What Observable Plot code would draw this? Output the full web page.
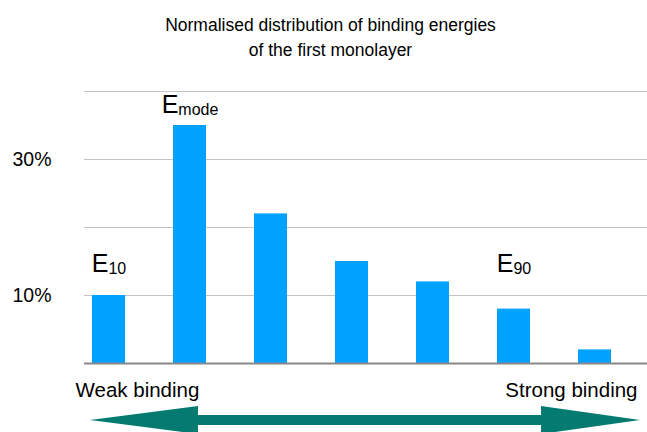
<!DOCTYPE html>
<html>
<head>
<meta charset="utf-8">
<script src="https://cdn.jsdelivr.net/npm/d3@7"></script>
<script src="https://cdn.jsdelivr.net/npm/@observablehq/plot@0.6"></script>
<style>
  body { margin: 0; background: #fff; font-family: "Liberation Sans", Arial, sans-serif; }
  #title { width: 647px; height: 70px; box-sizing: border-box; padding-top: 13px; font-size: 17.5px; line-height: 25px; text-align: center; position: relative; left: 7px; color: #000; }
</style>
</head>
<body>
<div id="title">Normalised distribution of binding energies<br>of the first monolayer</div>
<div id="chart"></div>
<script>
const bins = [0, 1, 2, 3, 4, 5, 6];
const shares = [0.10, 0.35, 0.22, 0.15, 0.12, 0.08, 0.02];
const yTicks = [0.1, 0.3];
const gridValues = [0.1, 0.2, 0.3, 0.4];
const labelBins = [0, 1, 5];
const labelSubs = ["10", "mode", "90"];
const labelLevels = [0.135, 0.368, 0.135];
const endLabels = ["Weak binding", "Strong binding"];

const bars = bins.map((b, i) => ({bin: b, share: shares[i]}));
const labels = labelBins.map((b, i) => ({bin: b, level: labelLevels[i], sub: labelSubs[i]}));

function arrowMark(index, scales, values, dims) {
  const {width, height} = dims;
  const cy = height - 12;
  const x0 = 90, x1 = width - 7;
  const hb0 = 198, hb1 = 541;
  const hh = 14, sh = 5;
  const pts = [
    [x0, cy], [hb0, cy - hh], [hb0, cy - sh], [hb1, cy - sh], [hb1, cy - hh],
    [x1, cy], [hb1, cy + hh], [hb1, cy + sh], [hb0, cy + sh], [hb0, cy + hh]
  ];
  const g = d3.create("svg:g");
  g.append("polygon").attr("points", pts.map(p => p.join(",")).join(" ")).attr("fill", "#047A70");
  return g.node();
}

const svg = Plot.plot({
  width: 647,
  height: 362,
  marginTop: 21,
  marginBottom: 69,
  marginLeft: 84,
  marginRight: 0,
  style: {fontFamily: "'Liberation Sans', Arial, sans-serif", color: "#000", background: "#fff"},
  x: {type: "band", domain: bins, range: [67, 636], paddingInner: 0.59, paddingOuter: 0.295, axis: null},
  y: {domain: [0, 0.4], axis: null},
  marks: [
    Plot.ruleY(gridValues, {stroke: "#c4c4c4", strokeWidth: 1}),
    Plot.barY(bars, {x: "bin", y: "share", fill: "#00A2FF"}),
    Plot.ruleY([0], {stroke: "#888", strokeWidth: 2}),
    Plot.axisY(yTicks, {tickFormat: d3.format(".0%"), tickSize: 0, tickPadding: 33, fontSize: 19.5, label: null}),
    Plot.text(labels, {x: "bin", y: "level", text: () => "E", fontSize: 25, lineAnchor: "bottom", textAnchor: "middle", fill: "#000"}),
    Plot.text([endLabels[0]], {frameAnchor: "bottom-left", dx: -9, dy: 33, lineAnchor: "bottom", textAnchor: "start", fontSize: 20.5, fill: "#000"}),
    Plot.text([endLabels[1]], {frameAnchor: "bottom-right", dx: -10, dy: 33, lineAnchor: "bottom", textAnchor: "end", fontSize: 20.5, fill: "#000"}),
    arrowMark
  ]
});

d3.select(svg).selectAll("text").filter(function() { return this.textContent === "E"; })
  .each(function(d, i) {
    d3.select(this).append("tspan").attr("font-size", 16).attr("dy", 2).text(labelSubs[i]);
  });

document.getElementById("chart").appendChild(svg);
</script>
</body>
</html>
